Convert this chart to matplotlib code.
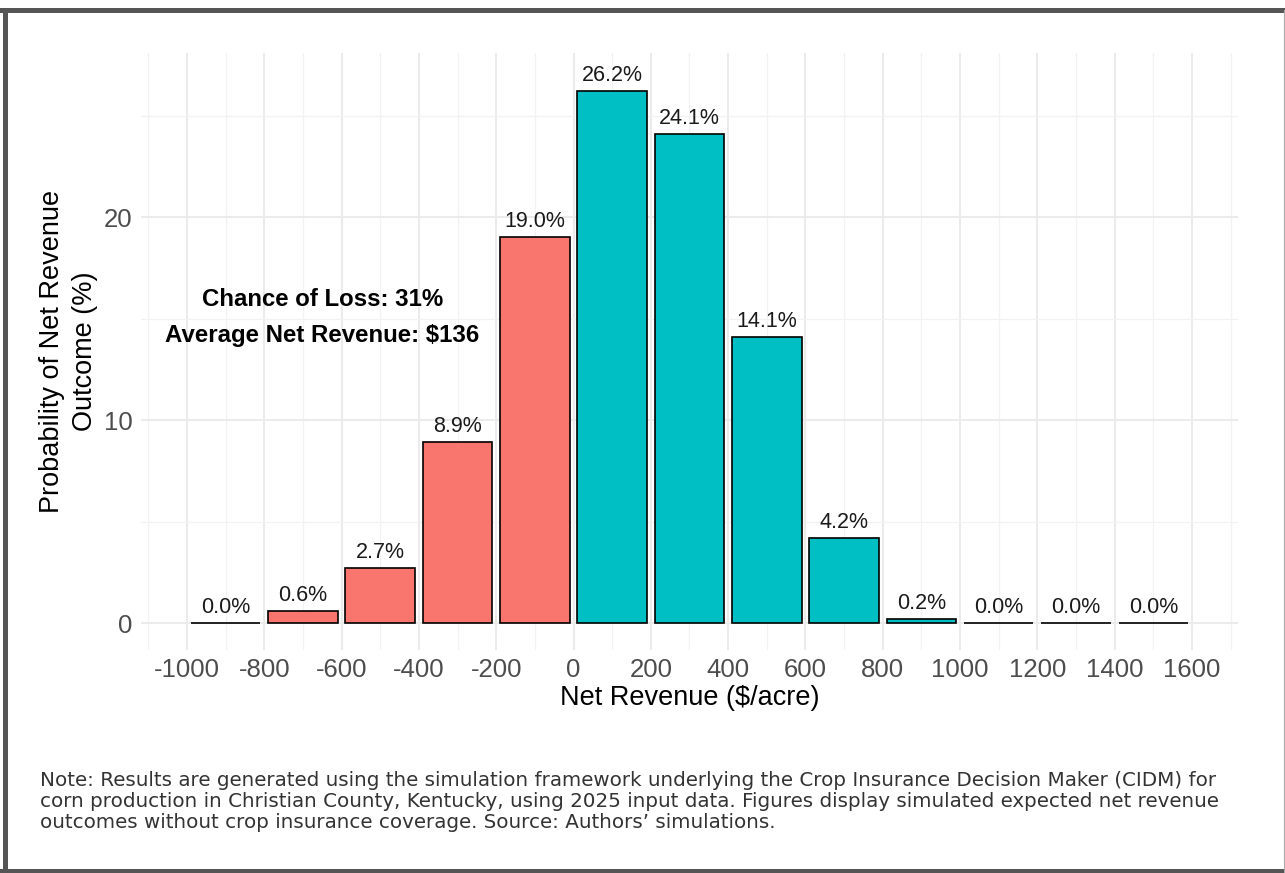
import matplotlib
matplotlib.use('Agg')
import matplotlib.pyplot as plt
from matplotlib.lines import Line2D

# bin centres of net revenue ($/acre) and probability (%)
bin_centers = [-900, -700, -500, -300, -100, 100, 300, 500, 700, 900, 1100, 1300, 1500]
probs = [0.0, 0.6, 2.7, 8.9, 19.0, 26.2, 24.1, 14.1, 4.2, 0.2, 0.0, 0.0, 0.0]
x_ticks = list(range(-1000, 1601, 200))
y_ticks = [0, 10, 20]
loss_text = ['Chance of Loss: 31%', 'Average Net Revenue: $136']
note = ("Note: Results are generated using the simulation framework underlying the Crop Insurance Decision Maker (CIDM) for\n"
        "corn production in Christian County, Kentucky, using 2025 input data. Figures display simulated expected net revenue\n"
        "outcomes without crop insurance coverage. Source: Authors\u2019 simulations.")

LOSS = '#F8766D'
GAIN = '#00BFC4'


def setup_plot_style():
    plt.rcParams['font.family'] = ['Liberation Sans', 'DejaVu Sans']
    plt.rcParams['axes.unicode_minus'] = False


def draw_bars(ax):
    colors = [LOSS if c < 0 else GAIN for c in bin_centers]
    ax.bar(bin_centers, probs, width=180, color=colors, edgecolor='black',
           linewidth=1.2, zorder=3)
    for c, p in zip(bin_centers, probs):
        ax.annotate(f'{p:.1f}%', (c, p), xytext=(0, 3.5), textcoords='offset points',
                    ha='center', va='bottom', fontsize=15.5, color='#1a1a1a', zorder=4)


def style_axes(ax):
    ax.set_xlim(-1119, 1719)
    ax.set_ylim(-1.33, 28.08)
    ax.set_xticks(x_ticks)
    ax.set_xticks([t + 100 for t in range(-1200, 1601, 200)], minor=True)
    ax.set_yticks(y_ticks)
    ax.set_yticks([5, 15, 25], minor=True)
    ax.grid(which='major', color='#EBEBEB', linewidth=1.5, zorder=0)
    ax.grid(which='minor', color='#F2F2F2', linewidth=0.9, zorder=0)
    ax.tick_params(which='both', length=0)
    ax.tick_params(axis='both', labelsize=18.5, labelcolor='#4D4D4D', pad=6)
    for s in ax.spines.values():
        s.set_visible(False)
    ax.set_xlabel('Net Revenue ($/acre)', fontsize=19.5, color='black', labelpad=2)
    ax.set_ylabel('Probability of Net Revenue\nOutcome (%)', fontsize=19.5,
                  color='black', labelpad=4, linespacing=1.35)


def main():
    setup_plot_style()
    fig = plt.figure(figsize=(12.85, 8.73), dpi=100)
    ax = fig.add_axes([0.1097, 0.2554, 0.9634 - 0.1097, 0.9393 - 0.2554])

    draw_bars(ax)
    style_axes(ax)

    ax.text(-650, 15.95, loss_text[0], ha='center', va='center',
            fontsize=17.3, fontweight='bold', color='black', zorder=5)
    ax.text(-650, 14.15, loss_text[1], ha='center', va='center',
            fontsize=17.3, fontweight='bold', color='black', zorder=5)

    fig.text(40 / 1285, 1 - 771 / 873, note, ha='left', va='top', fontsize=14.3,
             color='#333333', linespacing=1.14, family=['DejaVu Sans'])

    # outer frame
    W, H = 1285, 873
    fig.add_artist(Line2D([5 / W, 5 / W], [0, 1 - 9.5 / H], color='#555555', lw=3.6,
                          transform=fig.transFigure))
    fig.add_artist(Line2D([0, 1], [1 - 9.5 / H, 1 - 9.5 / H], color='#555555', lw=3.6,
                          transform=fig.transFigure))
    fig.add_artist(Line2D([0, 1], [1 - 871 / H, 1 - 871 / H], color='#555555', lw=3.6,
                          transform=fig.transFigure))
    fig.add_artist(Line2D([1283.5 / W, 1283.5 / W], [0, 1 - 9.5 / H], color='#AAAAAA', lw=0.8,
                          transform=fig.transFigure))

    plt.savefig('out.png', dpi=100)


if __name__ == '__main__':
    main()
